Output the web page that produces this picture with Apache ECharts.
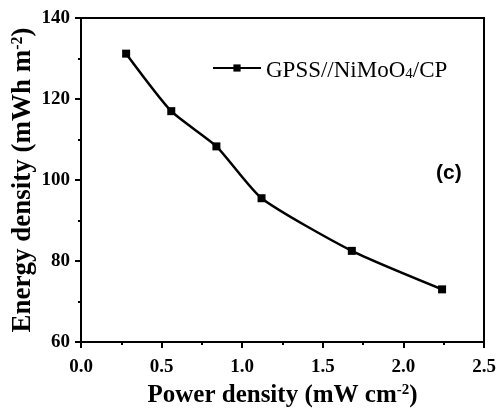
<!DOCTYPE html>
<html>
<head>
<meta charset="utf-8">
<script src="https://cdn.jsdelivr.net/npm/echarts@6/dist/echarts.min.js"></script>
<style>
  html, body { margin: 0; padding: 0; background: #fff; }
  #chart { width: 498px; height: 408px; }
</style>
</head>
<body>
<div id="chart"></div>
<script>
// Power density (mW cm^-2) vs energy density (mWh m^-2)
const powerDensity = [0.28, 0.56, 0.84, 1.12, 1.68, 2.24];
const energyDensity = [131.2, 117.0, 108.3, 95.5, 82.5, 73.0];
const seriesName = 'GPSS//NiMoO4/CP';

const serif = '"Liberation Serif", "Times New Roman", serif';

function titleRich(size) {
  return {
    t: { fontFamily: serif, fontWeight: 'bold', fontSize: size, color: '#000', verticalAlign: 'top', lineHeight: size + 3 },
    u: { fontFamily: serif, fontWeight: 'bold', fontSize: Math.round(size * 0.6), color: '#000', verticalAlign: 'top', lineHeight: size + 3 }
  };
}

const chart = echarts.init(document.getElementById('chart'));
chart.setOption({
  animation: false,
  backgroundColor: '#fff',
  grid: {
    left: 81, right: 14, top: 18, bottom: 66,
    containLabel: false, outerBoundsMode: 'none',
    show: true, borderColor: '#000', borderWidth: 2
  },
  legend: {
    left: 207, top: 50,
    itemWidth: 48, itemHeight: 9, itemGap: 5,
    data: [seriesName],
    formatter: () => '{a|GPSS//NiMoO}{s|4}{a|/CP}',
    textStyle: {
      rich: {
        a: { fontFamily: serif, fontSize: 23, color: '#000', lineHeight: 28, verticalAlign: 'bottom' },
        s: { fontFamily: serif, fontSize: 15, color: '#000', lineHeight: 20, verticalAlign: 'bottom', padding: [12, 0, 0, 0] }
      }
    }
  },
  graphic: [{
    type: 'text', left: 436, top: 163,
    style: { text: '(c)', font: 'bold 21px "Liberation Sans", Arial, sans-serif', fill: '#000' }
  }],
  xAxis: {
    type: 'value', min: 0, max: 2.5, interval: 0.5,
    name: '{t|Power density (mW cm}{u|-2}{t|)}',
    nameLocation: 'middle', nameGap: 41,
    nameTextStyle: { rich: titleRich(25) },
    axisLine: { show: true, onZero: false, lineStyle: { color: '#000', width: 2 } },
    axisTick: { show: true, inside: false, length: 6, lineStyle: { color: '#000', width: 2 } },
    minorTick: { show: true, splitNumber: 2, length: 3, lineStyle: { color: '#000', width: 2 } },
    splitLine: { show: false },
    axisLabel: {
      margin: 16, color: '#000', fontFamily: serif, fontWeight: 'bold', fontSize: 19,
      formatter: v => v.toFixed(1)
    }
  },
  yAxis: {
    type: 'value', min: 60, max: 140, interval: 20,
    name: '{t|Energy density (mWh m}{u|-2}{t|)}',
    nameLocation: 'middle', nameGap: 41, nameMoveOverlap: false,
    nameTextStyle: { rich: titleRich(27) },
    axisLine: { show: true, onZero: false, lineStyle: { color: '#000', width: 2 } },
    axisTick: { show: true, inside: false, length: 6, lineStyle: { color: '#000', width: 2 } },
    minorTick: { show: true, splitNumber: 2, length: 3, lineStyle: { color: '#000', width: 2 } },
    splitLine: { show: false },
    axisLabel: {
      margin: 11, color: '#000', fontFamily: serif, fontWeight: 'bold', fontSize: 19
    }
  },
  series: [{
    name: seriesName,
    type: 'line',
    smooth: 0.2,
    data: powerDensity.map((x, i) => [x, energyDensity[i]]),
    symbol: 'rect', symbolSize: 8,
    itemStyle: { color: '#000' },
    lineStyle: { color: '#000', width: 2.5 }
  }]
});
</script>
</body>
</html>
